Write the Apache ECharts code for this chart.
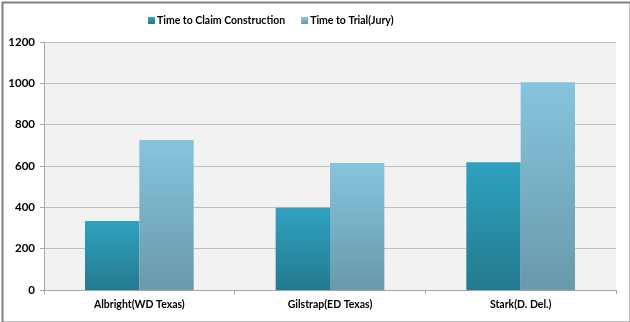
<!DOCTYPE html>
<html><head><meta charset="utf-8">
<script src="https://cdn.jsdelivr.net/npm/echarts@6/dist/echarts.min.js"></script>
<style>html,body{margin:0;padding:0;background:#fff}#c{width:630px;height:322px}</style>
</head><body><div id="c"></div>
<script>
const categories = ['Albright(WD Texas)', 'Gilstrap(ED Texas)', 'Stark(D. Del.)'];
const claimConstruction = [334, 398, 618];
const trialJury = [726, 614, 1005];
const seriesNames = ['Time to Claim Construction', 'Time to Trial(Jury)'];
const FONT = 'Lato, "Liberation Sans", Arial, sans-serif';

const chart = echarts.init(document.getElementById('c'), null, {renderer: 'canvas'});
function grad(top, bottom) {
  return new echarts.graphic.LinearGradient(0, 0, 0, 1, [{offset: 0, color: top}, {offset: 1, color: bottom}]);
}
chart.setOption({
  animation: false,
  backgroundColor: '#ffffff',
  graphic: [{
    type: 'rect', left: 0, top: 0, z: 100, silent: true,
    shape: {width: 628, height: 320},
    position: [1, 1],
    style: {fill: 'none', stroke: '#808080', lineWidth: 2}
  }],
  legend: {
    top: 10, left: 143, itemWidth: 7, itemHeight: 7, itemGap: 16,
    icon: 'rect',
    textStyle: {fontFamily: FONT, fontWeight: 'bold', fontSize: 10.5, color: '#000', padding: [0, 0, 0, -3]},
    data: seriesNames
  },
  grid: {left: 44, right: 14, top: 42, bottom: 32, show: true, backgroundColor: '#f2f2f2', borderWidth: 0},
  xAxis: {
    type: 'category', data: categories,
    axisLine: {lineStyle: {color: '#a6a6a6'}},
    axisTick: {show: true, lineStyle: {color: '#a6a6a6'}, length: 4},
    axisLabel: {fontFamily: FONT, fontWeight: 'bold', fontSize: 10.5, color: '#000', margin: 9}
  },
  yAxis: {
    type: 'value', min: 0, max: 1200, interval: 200,
    axisLine: {show: true, lineStyle: {color: '#a6a6a6'}},
    axisTick: {show: true, lineStyle: {color: '#a6a6a6'}, length: 4},
    splitLine: {lineStyle: {color: '#bfbfbf'}},
    axisLabel: {fontFamily: FONT, fontWeight: 'bold', fontSize: 11.5, color: '#000', margin: 9,
      formatter: v => String(v)}
  },
  series: [
    {name: seriesNames[0], type: 'bar', data: claimConstruction, barGap: '0%', barCategoryGap: '43%',
     itemStyle: {color: grad('#2fa2c0', '#237a8e')}},
    {name: seriesNames[1], type: 'bar', data: trialJury,
     itemStyle: {color: grad('#86c5de', '#6999aa')}}
  ]
});
</script></body></html>
